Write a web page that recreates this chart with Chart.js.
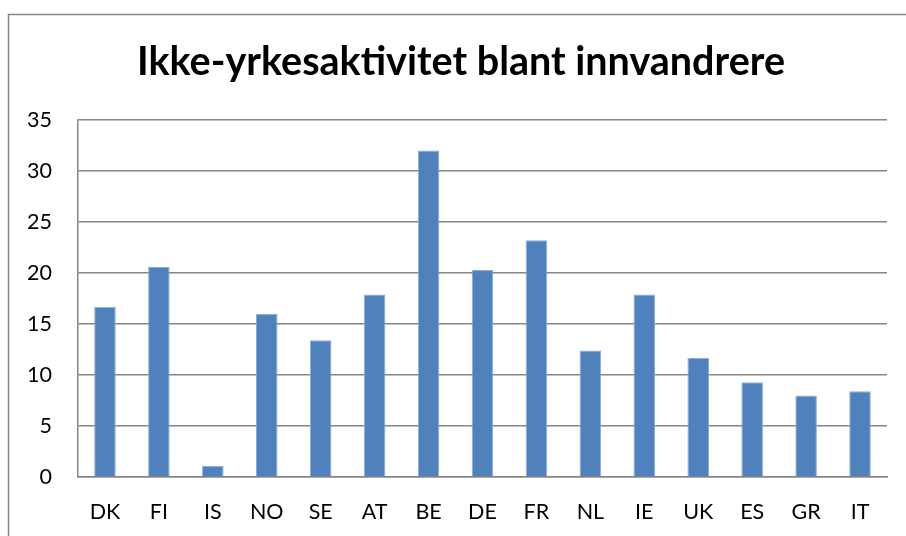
<!DOCTYPE html>
<html>
<head>
<meta charset="utf-8">
<script src="https://cdn.jsdelivr.net/npm/chart.js@4/dist/chart.umd.min.js"></script>
<style>
html,body{margin:0;padding:0;background:#fff;}
#wrap{width:906px;height:536px;position:relative;}
</style>
</head>
<body>
<div id="wrap"><canvas id="c" width="906" height="536"></canvas></div>
<script>
const titleText = 'Ikke-yrkesaktivitet blant innvandrere';
const categories = ['DK','FI','IS','NO','SE','AT','BE','DE','FR','NL','IE','UK','ES','GR','IT'];
const values = [16.7, 20.6, 1.1, 16.0, 13.4, 17.9, 32.0, 20.3, 23.2, 12.4, 17.9, 11.7, 9.3, 8.0, 8.4];
const yTicks = [0, 5, 10, 15, 20, 25, 30, 35];

const frame = {
  id: 'frame',
  beforeDraw(chart) {
    const ctx = chart.ctx;
    ctx.save();
    ctx.fillStyle = '#ffffff';
    ctx.fillRect(0, 0, chart.width, chart.height);
    ctx.strokeStyle = '#868686';
    ctx.lineWidth = 1.5;
    ctx.beginPath();
    ctx.moveTo(8.5, chart.height);
    ctx.lineTo(8.5, 14.5);
    ctx.lineTo(chart.width, 14.5);
    ctx.stroke();
    ctx.restore();
  },
  afterDraw(chart) {
    const ctx = chart.ctx;
    ctx.save();
    ctx.fillStyle = '#000';
    ctx.font = 'bold 39.5px Lato';
    ctx.textAlign = 'center';
    ctx.textBaseline = 'alphabetic';
    ctx.fillText(titleText, 461, 75);
    ctx.restore();
  }
};

new Chart(document.getElementById('c'), {
  type: 'bar',
  data: {
    labels: categories,
    datasets: [{
      data: values,
      backgroundColor: '#4F81BD',
      borderColor: '#8EADD6',
      borderWidth: 1,
      barPercentage: 0.4,
      categoryPercentage: 1.0
    }]
  },
  options: {
    responsive: false,
    animation: false,
    devicePixelRatio: 1,
    layout: { padding: { left: 0, right: 19, top: 120, bottom: 0 } },
    plugins: {
      legend: { display: false },
      tooltip: { enabled: false },
      title: { display: false }
    },
    scales: {
      x: {
        grid: { display: false, drawTicks: false },
        border: { display: true, color: '#868686', width: 1.5 },
        ticks: {
          color: '#000',
          font: { family: 'Lato', size: 21.5 },
          padding: 22,
          maxRotation: 0,
          autoSkip: false
        },
        afterFit(scale) { scale.height = 59; }
      },
      y: {
        min: 0,
        max: 35,
        afterBuildTicks(scale) { scale.ticks = yTicks.map(v => ({ value: v })); },
        grid: { color: '#868686', lineWidth: 1.5, drawTicks: false },
        border: { display: true, color: '#868686', width: 1.5 },
        ticks: {
          color: '#000',
          font: { family: 'Lato', size: 21.5 },
          padding: 26
        },
        afterFit(scale) { scale.width = 78; }
      }
    }
  },
  plugins: [frame]
});
</script>
</body>
</html>
